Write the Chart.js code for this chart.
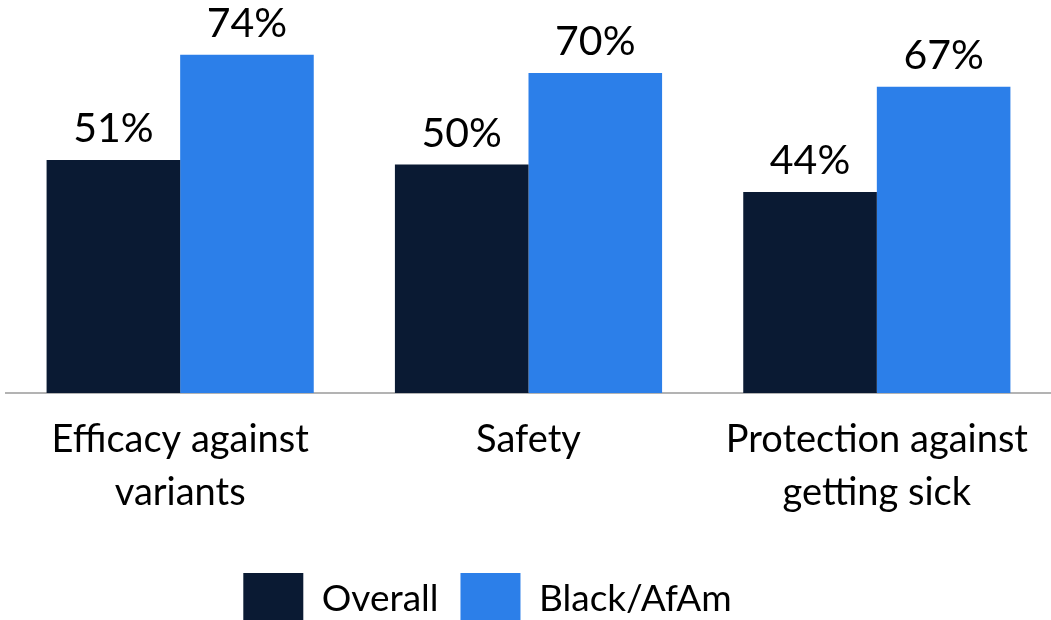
<!DOCTYPE html>
<html>
<head>
<meta charset="utf-8">
<script src="https://cdn.jsdelivr.net/npm/chart.js@4/dist/chart.umd.min.js"></script>
<style>
html,body{margin:0;padding:0;background:#fff;}
#wrap{width:1051px;height:620px;position:relative;}
</style>
</head>
<body>
<div id="wrap"><canvas id="c" width="1051" height="620"></canvas></div>
<script>
const categories = [["Efficacy against","variants"],["Safety"],["Protection against","getting sick"]];
const seriesNames = ["Overall","Black/AfAm"];
const overall = [51, 50, 44];
const blackAfAm = [74, 70, 67];

const FONT = "Lato";

const dataLabels = {
  id: 'dataLabels',
  afterDatasetsDraw(chart) {
    const ctx = chart.ctx;
    ctx.save();
    ctx.font = "41px " + FONT;
    ctx.fillStyle = "#000";
    ctx.textAlign = "center";
    ctx.textBaseline = "alphabetic";
    chart.data.datasets.forEach((ds, i) => {
      chart.getDatasetMeta(i).data.forEach((bar, j) => {
        ctx.fillText(ds.data[j] + "%", bar.x, bar.y - 18);
      });
    });
    ctx.restore();
  }
};

const legendShift = {
  id: 'legendShift',
  afterLayout(chart) {
    if (chart.legend) {
      chart.legend.left -= 41;
      chart.legend.right -= 41;
    }
  }
};

new Chart(document.getElementById('c'), {
  type: 'bar',
  data: {
    labels: categories,
    datasets: [
      {label: seriesNames[0], data: overall, backgroundColor: '#0a1a33', categoryPercentage: 0.767, barPercentage: 1.0},
      {label: seriesNames[1], data: blackAfAm, backgroundColor: '#2c7fe9', categoryPercentage: 0.767, barPercentage: 1.0}
    ]
  },
  options: {
    responsive: false,
    animation: false,
    layout: {padding: {left: 6, right: 0, top: 0, bottom: -15}},
    plugins: {
      legend: {
        position: 'bottom',
        labels: {
          boxWidth: 60, boxHeight: 52, padding: 22,
          color: '#000',
          font: {family: FONT, size: 37}
        }
      },
      tooltip: {enabled: false}
    },
    scales: {
      x: {
        grid: {display: false},
        border: {display: true, color: '#b3b3b3', width: 2},
        ticks: {color: '#000', font: {family: FONT, size: 38, lineHeight: 1.395}, padding: 12, maxRotation: 0, autoSkip: false},
        afterFit(scale) { scale.height = 158; }
      },
      y: {
        display: false,
        min: 0, max: 86
      }
    }
  },
  plugins: [dataLabels, legendShift]
});
</script>
</body>
</html>
